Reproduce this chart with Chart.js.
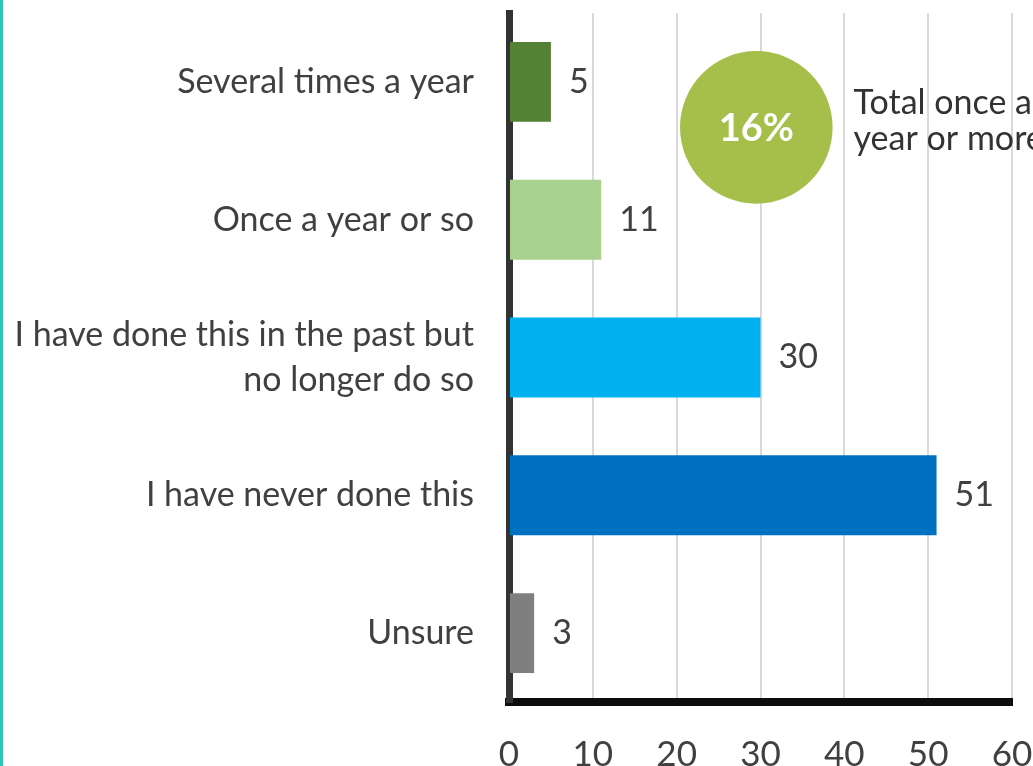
<!DOCTYPE html>
<html>
<head>
<meta charset="utf-8">
<script src="https://cdn.jsdelivr.net/npm/chart.js@4"></script>
<style>
  html, body { margin: 0; padding: 0; background: #ffffff; }
  #wrap { position: relative; width: 1033px; height: 766px; overflow: hidden; }
  #edge { position: absolute; left: 0; top: 0; width: 3px; height: 766px; background: #2ec4b6; }
  canvas { position: absolute; left: 0; top: 0; }
</style>
</head>
<body>
<div id="wrap">
  <canvas id="chart" width="1033" height="766"></canvas>
  <div id="edge"></div>
</div>
<script>
// Chart data
const categories = [
    'Several times a year',
    'Once a year or so',
    ['I have done this in the past but', 'no longer do so'],
    'I have never done this',
    'Unsure'
];
const values = [5, 11, 30, 51, 3];
const barColors = ['#548235', '#a9d18e', '#00b0f0', '#0070c0', '#7f7f7f'];
const xTicks = [0, 10, 20, 30, 40, 50, 60];
const calloutValue = '16%';
const calloutText = ['Total once a', 'year or more'];

const textColor = '#404040';
const fontFamily = 'Lato, "Open Sans", sans-serif';

// Value labels at the end of each bar
const valueLabels = {
    id: 'valueLabels',
    afterDatasetsDraw(chart) {
        const ctx = chart.ctx;
        const meta = chart.getDatasetMeta(0);
        ctx.save();
        ctx.font = '34px ' + fontFamily;
        ctx.fillStyle = textColor;
        ctx.textAlign = 'left';
        ctx.textBaseline = 'middle';
        meta.data.forEach(function(bar, i) {
            ctx.fillText(String(values[i]), bar.x + 18, bar.y);
        });
        ctx.restore();
    }
};

// Green circle with the total, plus its caption
const callout = {
    id: 'callout',
    afterDraw(chart) {
        const ctx = chart.ctx;
        const x = chart.scales.x;
        const y = chart.scales.y;
        const cx = x.getPixelForValue(29.5);
        const cy = y.getPixelForValue(0.33);
        const r = x.getPixelForValue(9.1) - x.getPixelForValue(0);
        ctx.save();
        ctx.beginPath();
        ctx.arc(cx, cy, r, 0, Math.PI * 2);
        ctx.fillStyle = '#a5bf4a';
        ctx.fill();
        ctx.fillStyle = '#ffffff';
        ctx.font = 'bold 38px ' + fontFamily;
        ctx.textAlign = 'center';
        ctx.textBaseline = 'middle';
        ctx.fillText(calloutValue, cx, cy + 1);
        ctx.fillStyle = '#333333';
        ctx.font = '34px ' + fontFamily;
        ctx.textAlign = 'left';
        ctx.textBaseline = 'alphabetic';
        const tx = x.getPixelForValue(41.1);
        ctx.fillText(calloutText[0], tx, cy - 13);
        ctx.fillText(calloutText[1], tx, cy + 23);
        ctx.restore();
    }
};

new Chart(document.getElementById('chart'), {
    type: 'bar',
    data: {
        labels: categories,
        datasets: [{
            data: values,
            backgroundColor: barColors,
            borderWidth: 0,
            barPercentage: 0.58,
            categoryPercentage: 1
        }]
    },
    options: {
        indexAxis: 'y',
        responsive: false,
        animation: false,
        layout: { padding: { top: 13, right: 21, left: 0, bottom: 0 } },
        plugins: {
            legend: { display: false },
            tooltip: { enabled: false }
        },
        scales: {
            x: {
                min: 0,
                max: 60,
                afterBuildTicks(scale) {
                    scale.ticks = xTicks.map(v => ({ value: v }));
                },
                afterFit(scale) {
                    scale.height = 64;
                    scale.paddingLeft = 0;
                    scale.paddingRight = 0;
                },
                grid: { color: '#d9d9d9', lineWidth: 2, drawTicks: false },
                border: { display: true, color: '#0d0d0d', width: 8 },
                ticks: {
                    padding: 32,
                    color: textColor,
                    font: { family: fontFamily, size: 35 }
                }
            },
            y: {
                z: 1,
                afterFit(scale) {
                    scale.width = 509;
                    scale.paddingTop = 0;
                    scale.paddingBottom = 0;
                },
                grid: { display: false, drawTicks: false },
                border: { display: true, color: '#333333', width: 7 },
                ticks: {
                    padding: 35,
                    color: textColor,
                    font: { family: fontFamily, size: 34, lineHeight: 1.3 }
                }
            }
        }
    },
    plugins: [valueLabels, callout]
});
</script>
</body>
</html>
